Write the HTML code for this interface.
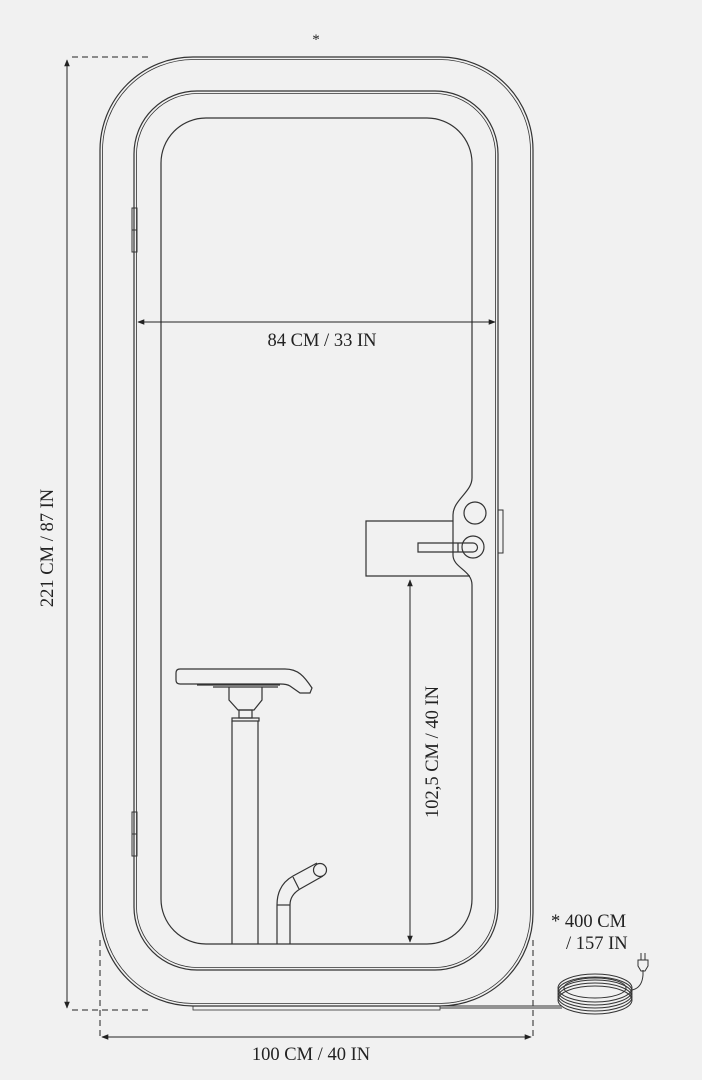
<!DOCTYPE html>
<html><head><style>
html,body{margin:0;padding:0;background:#f1f1f1;}
svg{display:block;}
text{font-family:"Liberation Serif",serif;fill:#222;}
</style></head><body>
<svg width="702" height="1080" viewBox="0 0 702 1080" xmlns="http://www.w3.org/2000/svg">
<rect width="702" height="1080" fill="#f1f1f1"/>
<defs>
<marker id="a" viewBox="0 0 10 10" refX="9" refY="5" markerWidth="7" markerHeight="7" orient="auto-start-reverse"><path d="M0,1 L10,5 L0,9 z" fill="#222"/></marker>
</defs>
<g fill="none" stroke="#333" stroke-width="1.2">
<rect x="100" y="57" width="433" height="949" rx="93" ry="93"/>
<rect x="102.5" y="59.5" width="428" height="944" rx="91" ry="91" stroke-width="0.8"/>
<rect x="134" y="91" width="364" height="879" rx="63" ry="63"/>
<rect x="136.5" y="93.5" width="359" height="874" rx="61" ry="61" stroke-width="0.8"/>
<path d="M206,118 H427 A45,45 0 0 1 472,163 V478 C472,492 453,500 453,515 V555 C453,568 472,570 472,585 V899 A45,45 0 0 1 427,944 H206 A45,45 0 0 1 161,899 V163 A45,45 0 0 1 206,118 Z"/>
<rect x="193" y="1006" width="247" height="4" stroke-width="0.8"/>
<rect x="132" y="208" width="5" height="22" stroke-width="1"/>
<rect x="132" y="230" width="5" height="22" stroke-width="1"/>
<rect x="132" y="812" width="5" height="22" stroke-width="1"/>
<rect x="132" y="834" width="5" height="22" stroke-width="1"/>
<rect x="498" y="510" width="5" height="43" stroke-width="1"/>
<path d="M453,521 H366 V576 H470"/>
<circle cx="475" cy="513" r="11"/>
<circle cx="473" cy="547" r="11"/>
<path d="M418,543 H473 A4.5,4.5 0 0 1 473,552 H418 Z"/>
<line x1="458" y1="543" x2="458" y2="552"/>
<path d="M180,669 H285 C298,669 304,676 312,688 L310,693 H300 L290,686 Q287,684 280,684 H180 Q176,684 176,680 V673 Q176,669 180,669 Z"/>
<line x1="197" y1="685" x2="280" y2="685"/>
<line x1="213" y1="687" x2="278" y2="687"/>
<path d="M229,687 V700 L238,710 H254 L262,700 V687"/>
<rect x="239" y="710" width="13" height="8"/>
<rect x="232" y="718" width="27" height="3"/>
<line x1="232" y1="721" x2="232" y2="944"/>
<line x1="258" y1="721" x2="258" y2="944"/>
<path d="M277,944 V905 Q277,885 293,876 L317,863"/>
<path d="M290,944 V905 Q290,895 300,889 L323,876"/>
<line x1="277" y1="905" x2="290" y2="905"/>
<line x1="293" y1="877" x2="299" y2="889"/>
<circle cx="320" cy="870" r="6.5"/>
</g>
<g stroke="#222" stroke-width="1" fill="none">
<line x1="67" y1="60" x2="67" y2="1008" marker-start="url(#a)" marker-end="url(#a)"/>
<line x1="72" y1="57" x2="150" y2="57" stroke-dasharray="6,4"/>
<line x1="72" y1="1010" x2="150" y2="1010" stroke-dasharray="6,4"/>
<line x1="100" y1="940" x2="100" y2="1040" stroke-dasharray="6,4"/>
<line x1="533" y1="940" x2="533" y2="1040" stroke-dasharray="6,4"/>
<line x1="102" y1="1037" x2="531" y2="1037" marker-start="url(#a)" marker-end="url(#a)"/>
<line x1="138" y1="322" x2="495" y2="322" marker-start="url(#a)" marker-end="url(#a)"/>
<line x1="410" y1="580" x2="410" y2="942" marker-start="url(#a)" marker-end="url(#a)"/>
</g>
<g fill="none" stroke="#333" stroke-width="1">
<line x1="440" y1="1006" x2="562" y2="1006"/>
<line x1="440" y1="1008" x2="562" y2="1008"/>
<ellipse cx="595" cy="988" rx="37" ry="14"/>
<ellipse cx="595" cy="991" rx="37" ry="14"/>
<ellipse cx="595" cy="994" rx="37" ry="14"/>
<ellipse cx="595" cy="997" rx="37" ry="14"/>
<ellipse cx="595" cy="1000" rx="37" ry="14"/>
<ellipse cx="595" cy="988" rx="31" ry="10"/>
<path d="M632,990 Q642,988 643,975 V970"/>
<path d="M638,960 H648 V966 L645,971 H641 L638,966 Z"/>
<line x1="641" y1="953" x2="641" y2="960"/>
<line x1="645" y1="953" x2="645" y2="960"/>
</g>
<text x="316" y="44" font-size="15" text-anchor="middle">*</text>
<text x="322" y="346" font-size="18.5" text-anchor="middle">84 CM / 33 IN</text>
<text x="311" y="1060" font-size="18.5" text-anchor="middle">100 CM / 40 IN</text>
<text transform="translate(53,548) rotate(-90)" font-size="18.5" text-anchor="middle">221 CM / 87 IN</text>
<text transform="translate(438,752) rotate(-90)" font-size="18.5" text-anchor="middle">102,5 CM / 40 IN</text>
<text x="551" y="927" font-size="18.5">* 400 CM</text>
<text x="566" y="949" font-size="18.5">/ 157 IN</text>
</svg>
</body></html>
